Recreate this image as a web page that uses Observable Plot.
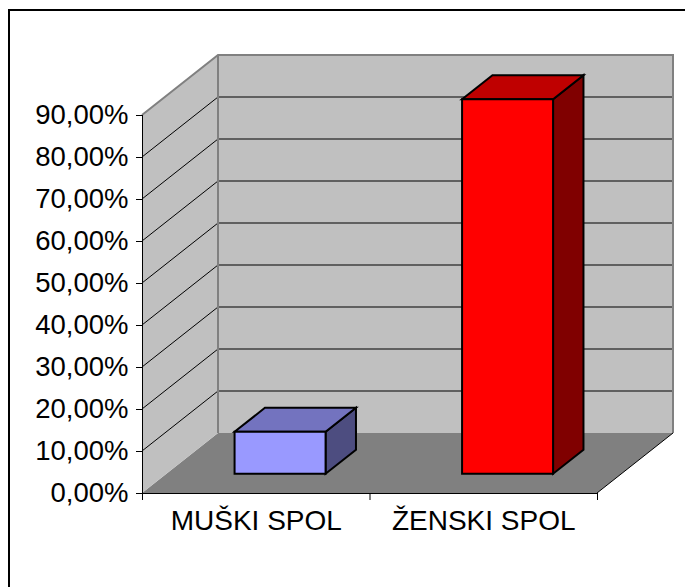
<!DOCTYPE html>
<html>
<head>
<meta charset="utf-8">
<script src="https://cdn.jsdelivr.net/npm/d3@7"></script>
<script src="https://cdn.jsdelivr.net/npm/@observablehq/plot@0.6"></script>
<style>
  html, body { margin: 0; padding: 0; background: #ffffff; }
  #chart svg { display: block; }
</style>
</head>
<body>
<div id="chart"></div>
<script>
// ---- data ----
const categories = ["MUŠKI SPOL", "ŽENSKI SPOL"];
const values = [10.0, 89.2];
const yTicks = [0, 10, 20, 30, 40, 50, 60, 70, 80, 90];

// ---- style / geometry config ----
const DEPTH = { dx: 76, dy: -60 };          // oblique depth of the box (px)
const BAR = { inset: 0.3, f0: 0.32, f1: 0.72 }; // bar inset in band units, front/back depth fractions
const palette = [
  { front: "#9999ff", top: "#7373bf", side: "#4d4d80" },
  { front: "#ff0000", top: "#bf0000", side: "#800000" }
];

const bars = categories.map((c, i) => ({ category: c, index: i, value: values[i] }));
const fmt = d => d.toFixed(2).replace(".", ",") + "%";

function poly(pts) { return "M" + pts.map(p => p[0] + "," + p[1]).join("L") + "Z"; }

function scene(index, scales) {
  const x = scales.x, y = scales.y;
  const g = d3.create("svg:g");
  const x0 = x(0), x1 = x(categories.length);
  const yb = y(0), yt = y(d3.max(yTicks));
  const P = (px, py, f) => [px + f * DEPTH.dx, py + f * DEPTH.dy];

  // outer chart-area border (top & left visible)
  g.append("path").attr("d", "M9,600V10H700").attr("fill", "none")
    .attr("stroke", "#000").attr("stroke-width", 2);

  // floor
  g.append("path").attr("d", poly([P(x0, yb, 0), P(x1, yb, 0), P(x1, yb, 1), P(x0, yb, 1)]))
    .attr("fill", "#808080");
  // left wall
  g.append("path").attr("d", poly([P(x0, yb, 0), P(x0, yt, 0), P(x0, yt, 1), P(x0, yb, 1)]))
    .attr("fill", "#c0c0c0");
  // back wall
  g.append("path").attr("d", poly([P(x0, yb, 1), P(x0, yt, 1), P(x1, yt, 1), P(x1, yb, 1)]))
    .attr("fill", "#c0c0c0");

  // gridlines
  for (const t of yTicks.slice(1, -1)) {
    const a = P(x0, y(t), 0), b = P(x0, y(t), 1), c = P(x1, y(t), 1);
    g.append("path").attr("d", `M${a[0]},${a[1]}L${b[0]},${b[1]}L${c[0]},${c[1]}`)
      .attr("fill", "none").attr("stroke", "#000").attr("stroke-width", 1);
  }

  // wall edges (grey)
  const e1 = P(x0, yt, 0), e2 = P(x0, yt, 1), e3 = P(x1, yt, 1), e4 = P(x1, yb, 1), e5 = P(x0, yb, 1);
  g.append("path").attr("d", `M${e1}L${e2}L${e3}L${e4}`)
    .attr("fill", "none").attr("stroke", "#808080").attr("stroke-width", 2).attr("stroke-linejoin", "miter");
  g.append("path").attr("d", `M${e2}L${e5}`)
    .attr("fill", "none").attr("stroke", "#808080").attr("stroke-width", 2);
  // floor right edge (black)
  const f1 = P(x1, yb, 0);
  g.append("path").attr("d", `M${f1}L${e4}`)
    .attr("fill", "none").attr("stroke", "#000").attr("stroke-width", 1);

  // bars
  for (const d of bars) {
    const col = palette[d.index];
    const xl = x(d.index + BAR.inset), xr = x(d.index + 1 - BAR.inset);
    const ytop = y(d.value), ybot = y(0);
    const FTL = P(xl, ytop, BAR.f0), FTR = P(xr, ytop, BAR.f0),
          FBR = P(xr, ybot, BAR.f0), FBL = P(xl, ybot, BAR.f0);
    const BTL = P(xl, ytop, BAR.f1), BTR = P(xr, ytop, BAR.f1), BBR = P(xr, ybot, BAR.f1);
    const common = s => s.attr("stroke", "#000").attr("stroke-width", 2).attr("stroke-linejoin", "miter");
    g.append("path").attr("d", poly([FTR, BTR, BBR, FBR])).attr("fill", col.side).call(common);
    g.append("path").attr("d", poly([FTL, FTR, BTR, BTL])).attr("fill", col.top).call(common);
    g.append("path").attr("d", poly([FTL, FTR, FBR, FBL])).attr("fill", col.front).call(common);
  }
  return g.node();
}

const chart = Plot.plot({
  width: 685,
  height: 587,
  marginLeft: 142,
  marginRight: 88,
  marginTop: 115,
  marginBottom: 94,
  style: { fontFamily: "'Liberation Sans', Arial, sans-serif", fontSize: "27.5px", color: "#000", background: "#fff" },
  x: { type: "linear", domain: [0, categories.length] },
  y: { type: "linear", domain: [0, d3.max(yTicks)] },
  marks: [
    scene,
    Plot.ruleX([0], { stroke: "#000", strokeWidth: 1 }),
    Plot.ruleY([0], { stroke: "#000", strokeWidth: 1 }),
    Plot.axisY({ ticks: yTicks, tickFormat: fmt, tickSize: 6, tickPadding: 8, fontSize: 27.5 }),
    Plot.axisX({ ticks: d3.range(categories.length + 1), tickFormat: () => "", tickSize: 7 }),
    Plot.axisX({ ticks: categories.map((_, i) => i + 0.5), tickFormat: d => categories[Math.floor(d)],
                 tickSize: 0, tickPadding: 17, fontSize: 28 })
  ]
});
document.getElementById("chart").appendChild(chart);
</script>
</body>
</html>
